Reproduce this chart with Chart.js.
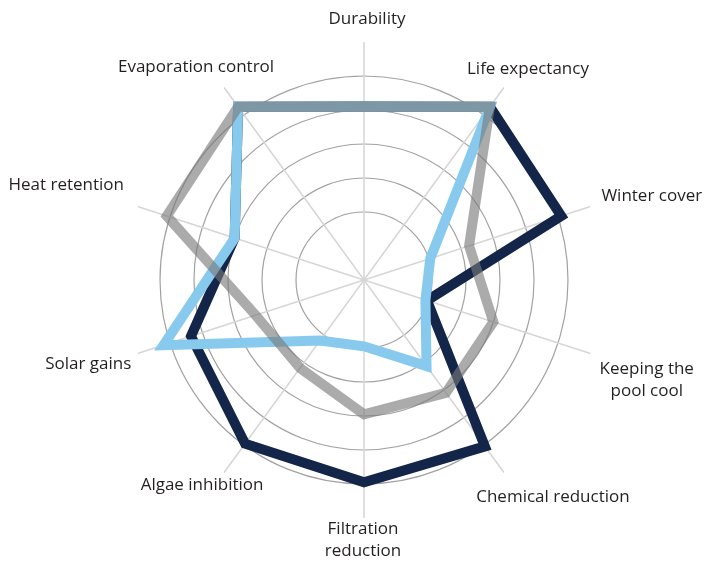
<!DOCTYPE html>
<html>
<head>
<meta charset="utf-8">
<script src="https://cdn.jsdelivr.net/npm/chart.js@4.4.1/dist/chart.umd.min.js"></script>
<style>
  html, body { margin: 0; padding: 0; background: #fff; }
  #wrap { width: 706px; height: 565px; position: relative; }
</style>
</head>
<body>
<div id="wrap"><canvas id="chartContainer"></canvas></div>
<script>
// axes, clockwise from the top
const categories = ['Durability', 'Life expectancy', 'Winter cover', ['Keeping the', 'pool cool'],
  'Chemical reduction', ['Filtration', 'reduction'], 'Algae inhibition', 'Solar gains',
  'Heat retention', 'Evaporation control']

// scores per axis (0-7 scale, rings drawn from 2 to 6)
const darkValues  = [5.1, 6.3, 6.1, 1.95, 6.05, 5.95, 5.95, 5.35, 4.0, 6.3]
const greyValues  = [5.1, 6.3, 3.25, 4.0, 4.1, 3.95, 3.2, 3.35, 6.1, 6.3]
const lightValues = [5.1, 6.3, 2.05, 1.9, 3.13, 1.95, 2.2, 6.2, 4.0, 6.3]

const ringTicks = [2, 3, 4, 5, 6]

// where each axis name sits, relative to a point a little past the spoke end
const labelNudge = [[3, -11], [17, -9], [50, -7], [45, 23], [42, 15],
  [-1, 10], [-15, 3], [-38, 7], [-60, -18], [-21, -11]]

const axisLabels = {
  id: 'axisLabels',
  afterDraw(chart) {
    const scale = chart.scales.r
    const ctx = chart.ctx
    const lineH = 22
    ctx.save()
    ctx.font = '17px "Open Sans"'
    ctx.fillStyle = '#231f20'
    ctx.textAlign = 'center'
    ctx.textBaseline = 'middle'
    chart.data.labels.forEach(function(label, i) {
      var lines = [].concat(label)
      var h = lines.length * lineH
      var p = scale.getPointPosition(i, scale.drawingArea + 12)
      var cx = p.x + labelNudge[i][0]
      var cy = p.y + labelNudge[i][1]
      lines.forEach(function(t, j) {
        ctx.fillText(t, cx, cy - h / 2 + lineH * (j + 0.5))
      })
    })
    ctx.restore()
  }
}

var chart = new Chart(document.getElementById('chartContainer'), {
  type: 'radar',
  data: {
    labels: categories,
    datasets: [{
        label: 'Series 1',
        data: darkValues,
        borderColor: '#14254a',
        order: 3
      },
      {
        label: 'Series 2',
        data: greyValues,
        borderColor: 'rgba(120,120,120,0.62)',
        order: 1
      },
      {
        label: 'Series 3',
        data: lightValues,
        borderColor: '#88caee',
        order: 2
      }
    ]
  },
  options: {
    responsive: true,
    maintainAspectRatio: false,
    animation: false,
    layout: { padding: { left: 125, right: 103, top: 42, bottom: 46 } },
    elements: {
      line: { borderWidth: 10, fill: false, tension: 0, borderJoinStyle: 'miter' },
      point: { radius: 0, hoverRadius: 0 }
    },
    plugins: { legend: { display: false }, tooltip: { enabled: false } },
    scales: {
      r: {
        min: 0,
        max: 7,
        ticks: { stepSize: 1, display: false },
        pointLabels: { display: false },
        grid: {
          circular: true,
          lineWidth: 1.2,
          color: c => ringTicks.includes(c.tick.value) ? '#a2a2a2' : 'rgba(0,0,0,0)'
        },
        angleLines: { color: '#d6d6d6', lineWidth: 1.5 }
      }
    }
  },
  plugins: [axisLabels]
})
</script>
</body>
</html>
